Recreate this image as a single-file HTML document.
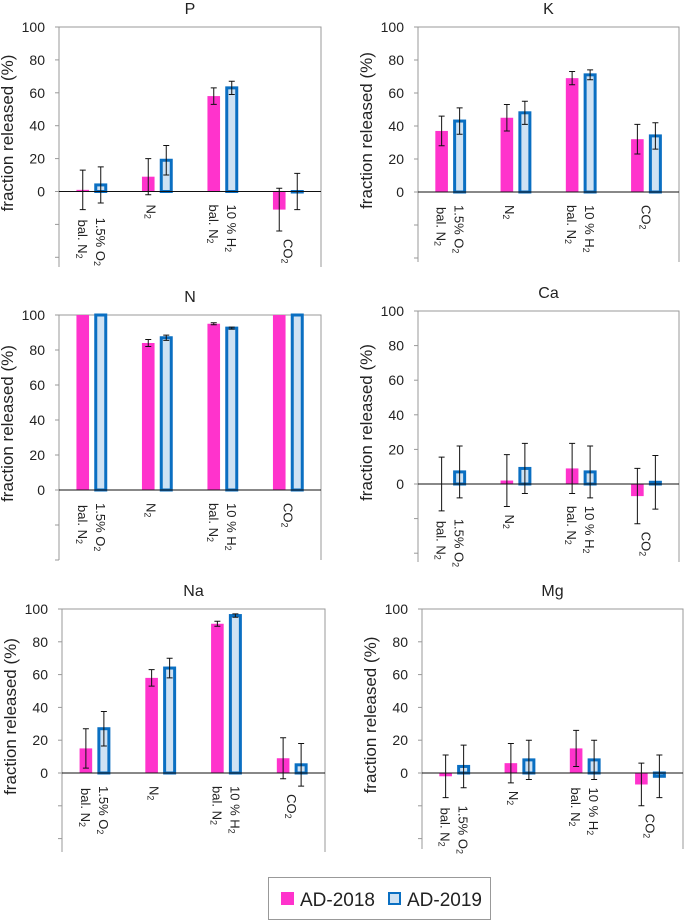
<!DOCTYPE html>
<html><head><meta charset="utf-8"><style>
html,body{margin:0;padding:0;background:#fff;}
svg{display:block;font-family:"Liberation Sans",Arial,sans-serif;}
</style></head><body>
<svg id="chart" width="685" height="921" viewBox="0 0 685 921" xmlns="http://www.w3.org/2000/svg"></svg>
<script>
const panelNames = ["P","K","N","Ca","Na","Mg"];
const categories = ["1.5% O2 bal. N2","N2","10 % H2 bal. N2","CO2"];
const yTicks = [0,20,40,60,80,100];
const P_2018 = [1,9,58,-11], P_2018_err = [12,11,5,13];
const P_2019 = [4,19,63,0], P_2019_err = [11,9,4,11];
const K_2018 = [37,45,69,32], K_2018_err = [9,8,4,9];
const K_2019 = [43,48,71,34], K_2019_err = [8,7,3,8];
const N_2018 = [100,84,95,100], N_2018_err = [0,2,0.6,0];
const N_2019 = [100,87,92.5,100], N_2019_err = [0,1.5,0.6,0];
const Ca_2018 = [0,2,9,-7], Ca_2018_err = [15.5,15,14.5,16];
const Ca_2019 = [7,9,7,1], Ca_2019_err = [15,14.5,15,15.5];
const Na_2018 = [15,58,91,9], Na_2018_err = [12,5,1.5,12.5];
const Na_2019 = [27,64,96,5], Na_2019_err = [10.5,6,1,13];
const Mg_2018 = [-2,6,15,-7], Mg_2018_err = [13,12,11,13];
const Mg_2019 = [4,8,8,-2], Mg_2019_err = [13,12,12,13];

const seriesData = {
 P:[P_2018,P_2018_err,P_2019,P_2019_err], K:[K_2018,K_2018_err,K_2019,K_2019_err],
 N:[N_2018,N_2018_err,N_2019,N_2019_err], Ca:[Ca_2018,Ca_2018_err,Ca_2019,Ca_2019_err],
 Na:[Na_2018,Na_2018_err,Na_2019,Na_2019_err], Mg:[Mg_2018,Mg_2018_err,Mg_2019,Mg_2019_err]
};
const layout = {
 P:{l:59,r:321,t:27,z:191.5,b:267}, K:{l:418,r:679,t:27,z:192,b:262},
 N:{l:59,r:321,t:315,z:490,b:560}, Ca:{l:418,r:679,t:311,z:484,b:562},
 Na:{l:62,r:325,t:609,z:773,b:852}, Mg:{l:422,r:683,t:609,z:773,b:849}
};
const NS="http://www.w3.org/2000/svg";
const svg=document.getElementById('chart');
function mk(tag,attrs,parent){const e=document.createElementNS(NS,tag);for(const k in attrs)e.setAttribute(k,attrs[k]);(parent||svg).appendChild(e);return e;}
function labelText(parent,x,y,main,sub,name){
  const t=mk('text',{x:0,y:0,transform:`translate(${x},${y}) rotate(90)`,'font-size':13,fill:'#222','dominant-baseline':'central'},parent);
  
  
  const a=document.createElementNS(NS,'tspan');a.textContent=main;t.appendChild(a);
  const s=document.createElementNS(NS,'tspan');s.setAttribute('font-size','9');s.setAttribute('dy','4');s.textContent=sub;t.appendChild(s);
}
panelNames.forEach(p=>{
  const L=layout[p];
  const [v18,e18,v19,e19]=seriesData[p];
  const g=mk('g',{});
  
  
  const y=v=>L.z-(v/100)*(L.z-L.t);
  const band=(L.r-L.l)/categories.length;
  const cx=i=>L.l+band*(i+0.5);
  // frame
  const fr=mk('path',{d:`M${L.l},${L.b}V${L.t}H${L.r}V${L.b}`,fill:'none',stroke:'#999','stroke-width':1},g);
  
  
  // ticks
  for(let v=-100;v<=100;v+=20){const yy=y(v);if(yy>L.b+0.5||yy<L.t-0.5)continue;
    mk('line',{x1:L.l-4,x2:L.l,y1:yy,y2:yy,stroke:'#999'},g);}
  yTicks.forEach(v=>{const t=mk('text',{x:L.l-14,y:y(v)+5,'text-anchor':'end','font-size':14,fill:'#222'},g);
    
    
    t.textContent=v;});
  const yl=mk('text',{x:0,y:0,transform:`translate(${L.l-46},${(L.t+L.b)/2-14}) rotate(-90)`,'text-anchor':'middle','font-size':17,fill:'#222'},g);
  
  
  yl.textContent='fraction released (%)';
  const ti=mk('text',{x:(L.l+L.r)/2,y:L.t-13,'text-anchor':'middle','font-size':16,fill:'#222'},g);
  
  
  ti.textContent=p;
  categories.forEach((c,i)=>{
    const x18=cx(i)-9,x19=cx(i)+9;
    const a=v18[i],b=v19[i];
    const r1=mk('rect',{x:x18-6.3,y:Math.min(y(a),L.z),width:12.6,height:Math.max(Math.abs(y(a)-L.z),0.5),fill:'#ff33cc'},g);
    
    
    const r2=mk('rect',{x:x19-5,y:Math.min(y(b),L.z),width:10,height:Math.max(Math.abs(y(b)-L.z),0.5),fill:'#cfe2f3',stroke:'#0a6fc2','stroke-width':3},g);
    
    
    [[x18,a,e18[i]],[x19,b,e19[i]]].forEach(([xx,v,e])=>{
      if(e<=0)return;
      const eb=mk('path',{d:`M${xx},${y(v+e)}V${y(v-e)}M${xx-3},${y(v+e)}H${xx+3}M${xx-3},${y(v-e)}H${xx+3}`,stroke:'#111','stroke-width':1,fill:'none'},g);
      
      
    });
    const low=Math.min(a-e18[i],b-e19[i],a,b,0);
    const ys=Math.max(L.z+13,y(low)+8);
    if(i===0){labelText(g,x19,ys,'1.5% O','2','category-label');labelText(g,x18,ys+2,'bal. N','2','category-label');}
    else if(i===1){labelText(g,cx(i)-6,ys,'N','2','category-label');}
    else if(i===2){labelText(g,x19,ys,'10 % H','2','category-label');labelText(g,x18,ys,'bal. N','2','category-label');}
    else {labelText(g,cx(i),ys,'CO','2','category-label');}
  });
  const zl=mk('line',{x1:L.l,x2:L.r,y1:L.z,y2:L.z,stroke:'#111','stroke-width':1},g);
  
  
});
// legend
const lg=mk('g',{});


mk('rect',{x:268.5,y:877.5,width:222,height:42,fill:'#fff',stroke:'#999'},lg);
const s1=mk('rect',{x:281,y:892,width:13,height:13,fill:'#ff33cc'},lg);


const t1=mk('text',{x:300,y:906,'font-size':19,fill:'#222'},lg);


t1.textContent='AD-2018';
const s2=mk('rect',{x:389,y:893,width:11,height:11,fill:'#cfe2f3',stroke:'#0a6fc2','stroke-width':2},lg);


const t2=mk('text',{x:407,y:906,'font-size':19,fill:'#222'},lg);


t2.textContent='AD-2019';
</script>
</body></html>
